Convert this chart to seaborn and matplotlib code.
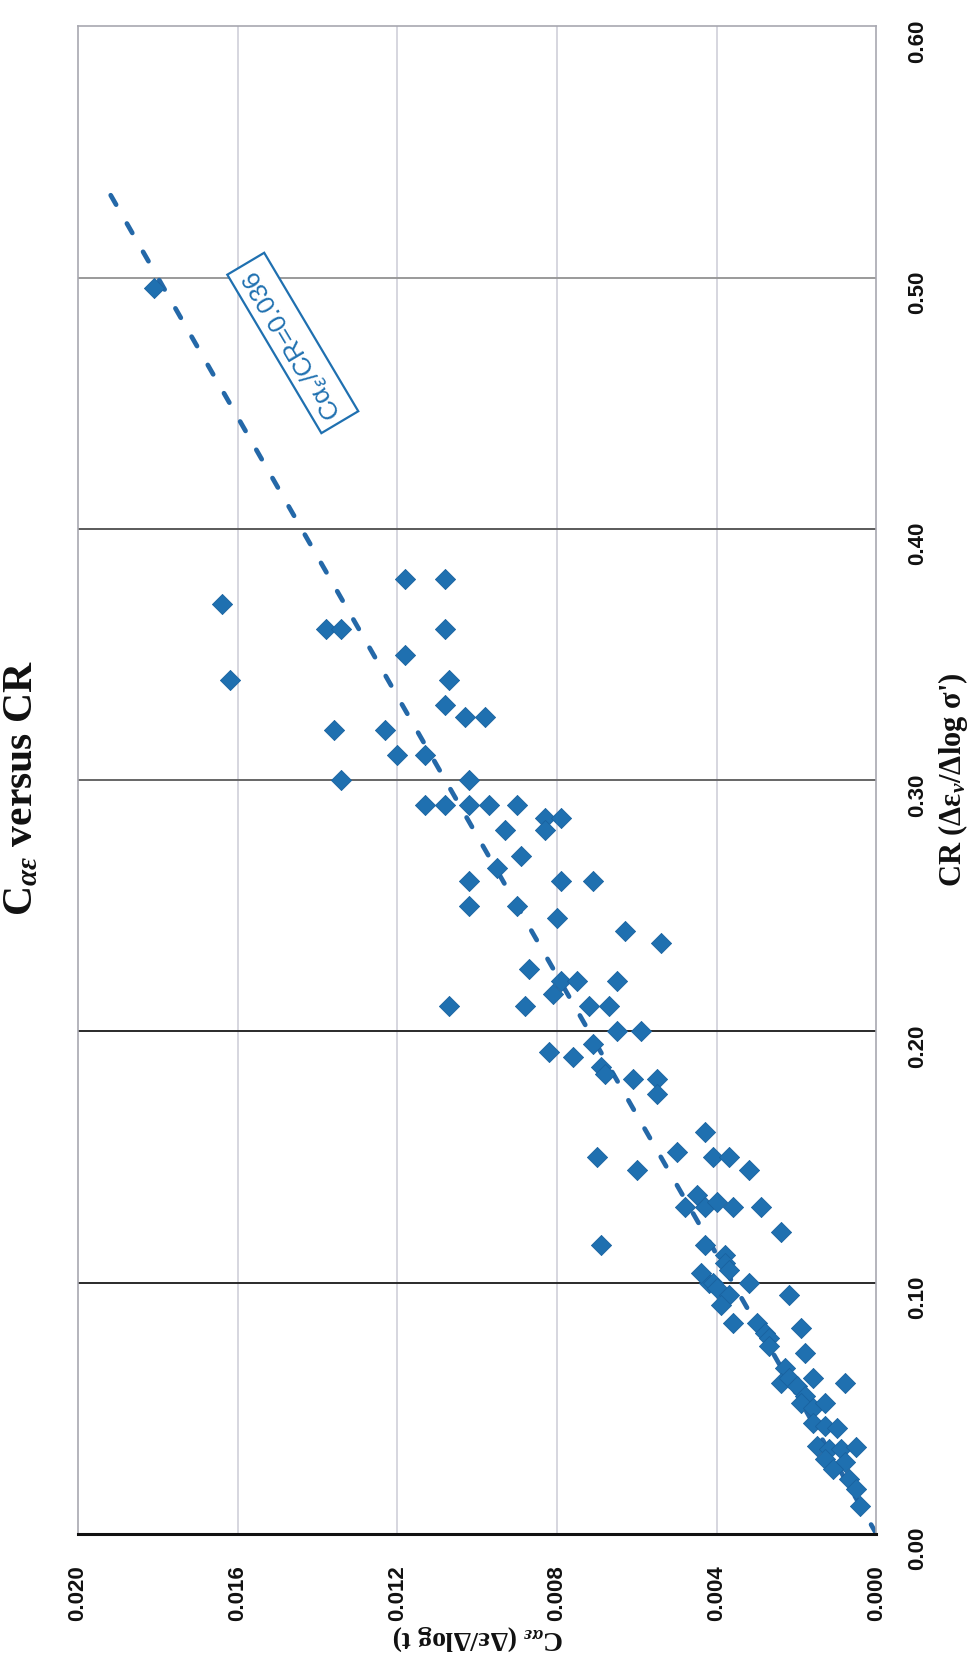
import numpy as np
import pandas as pd
import matplotlib
matplotlib.use("Agg")
import matplotlib.pyplot as plt
import seaborn as sns

# Secondary compression index versus compression ratio
cae = [
    0.0181, 0.0164, 0.0162, 0.0138, 0.0134, 0.0136, 0.0123, 0.0134, 0.0118, 0.0108,
    0.0108, 0.0118, 0.0107, 0.0108, 0.0103, 0.0098, 0.0120, 0.0113, 0.0102, 0.0113,
    0.0108, 0.0102, 0.0097, 0.0090, 0.0083, 0.0079, 0.0083, 0.0093, 0.0089, 0.0095,
    0.0102, 0.0079, 0.0071, 0.0102, 0.0090, 0.0080, 0.0063, 0.0054, 0.0087, 0.0079,
    0.0075, 0.0081, 0.0065, 0.0107, 0.0088, 0.0072, 0.0067, 0.0065, 0.0059, 0.0071,
    0.0082, 0.0076, 0.0069, 0.0068, 0.0061, 0.0055, 0.0055, 0.0043, 0.0070, 0.0060,
    0.0050, 0.0041, 0.0037, 0.0032, 0.0045, 0.0048, 0.0043, 0.0040, 0.0036, 0.0029,
    0.0069, 0.0043, 0.0024, 0.0038, 0.0038, 0.0037, 0.0042, 0.0041, 0.0040, 0.0037,
    0.0032, 0.0022, 0.0036, 0.0030, 0.0028, 0.0027, 0.0027, 0.0019, 0.0018, 0.0023,
    0.0024, 0.0022, 0.0020, 0.0016, 0.0008, 0.0018, 0.0019, 0.0016, 0.0013, 0.0016,
    0.0013, 0.0010, 0.0015, 0.0012, 0.0009, 0.0005, 0.0013, 0.0008, 0.0011, 0.0007,
    0.0005, 0.0004, 0.0044, 0.0039,
]
cr = [
    0.496, 0.370, 0.340, 0.360, 0.360, 0.320, 0.320, 0.300, 0.380, 0.380,
    0.360, 0.350, 0.340, 0.330, 0.325, 0.325, 0.310, 0.310, 0.300, 0.290,
    0.290, 0.290, 0.290, 0.290, 0.285, 0.285, 0.280, 0.280, 0.270, 0.265,
    0.260, 0.260, 0.260, 0.250, 0.250, 0.245, 0.240, 0.235, 0.225, 0.220,
    0.220, 0.215, 0.220, 0.210, 0.210, 0.210, 0.210, 0.200, 0.200, 0.195,
    0.192, 0.190, 0.186, 0.183, 0.181, 0.181, 0.175, 0.160, 0.150, 0.145,
    0.152, 0.150, 0.150, 0.145, 0.135, 0.130, 0.130, 0.132, 0.130, 0.130,
    0.115, 0.115, 0.120, 0.111, 0.108, 0.105, 0.100, 0.100, 0.098, 0.095,
    0.100, 0.095, 0.084, 0.084, 0.080, 0.078, 0.075, 0.082, 0.072, 0.066,
    0.060, 0.062, 0.059, 0.062, 0.060, 0.055, 0.052, 0.050, 0.052, 0.044,
    0.043, 0.042, 0.035, 0.034, 0.034, 0.0345, 0.030, 0.0285, 0.026, 0.022,
    0.018, 0.011, 0.104, 0.091,
]

# Fitted ratio Cae / CR and the CR span of the trend line
trend_ratio = 0.036
trend_cr = [0.0, 0.54]

cae_ticks = [0.000, 0.004, 0.008, 0.012, 0.016, 0.020]
cr_ticks = [0.0, 0.1, 0.2, 0.3, 0.4, 0.5, 0.6]

title_text = r"C$_{αε}$ versus CR"
cae_label = r"C$_{αε}$ (Δε/Δlog t)"
cr_label = r"CR (Δε$_{v}$/Δlog σ')"
trend_label = r"Cα$_{ε}$/CR=0.036"

BLUE = "#1f70b0"
LINE_BLUE = "#2468a8"

sns.set_style("white")
plt.rcParams["font.family"] = ["Liberation Sans", "DejaVu Sans"]
plt.rcParams["mathtext.fontset"] = "custom"
plt.rcParams["mathtext.rm"] = "Liberation Serif:bold"
plt.rcParams["mathtext.it"] = "Liberation Serif:bold:italic"
plt.rcParams["mathtext.bf"] = "Liberation Serif:bold"

fig = plt.figure(figsize=(9.69, 16.58), dpi=100)
ax = fig.add_axes([0.0805, 0.0742, 0.824, 0.9093])

# The chart is laid out turned a quarter turn: CR runs up the page,
# Cae runs from right (0) to left (0.020).
ax.set_xlim(0.020, 0.0)
ax.set_ylim(0.0, 0.6)

# grid
for t in cae_ticks[1:-1]:
    ax.axvline(t, color="#cbcbd6", lw=1.1, zorder=0.5)
grid_cols = ["#2a2a2a", "#2a2a2a", "#666666", "#5a5a5a", "#9a9a9a"]
for t, c in zip(cr_ticks[1:-1], grid_cols):
    ax.axhline(t, color=c, lw=1.4, zorder=0.5)

df = pd.DataFrame({"cae": cae, "cr": cr})
sns.scatterplot(data=df, x="cae", y="cr", marker="D", s=105, color=BLUE,
                edgecolor="#1a62a0", linewidth=0.6, ax=ax, zorder=3, legend=False)

line_cr = np.array(trend_cr)
ax.plot(trend_ratio * line_cr, line_cr, color=LINE_BLUE, lw=3.4,
        dashes=(2.3, 4.6), dash_capstyle="round", zorder=2)

ax.text(0.01462, 0.474, trend_label, rotation=120.7, rotation_mode="anchor",
        ha="center", va="center", color=BLUE, fontsize=18.5,
        family=["Liberation Sans", "DejaVu Sans"], math_fontfamily="dejavusans",
        bbox=dict(boxstyle="square,pad=0.3", fc="white", ec=BLUE, lw=1.6), zorder=4)

# ticks
ax.set_xticks(cae_ticks)
ax.set_xticklabels([f"{t:.3f}" for t in cae_ticks])
ax.set_yticks(cr_ticks)
ax.set_yticklabels([f"{t:.2f}" for t in cr_ticks])
ax.yaxis.tick_right()
ax.tick_params(axis="both", length=0)
ax.tick_params(axis="x", labelrotation=90, pad=22)
ax.tick_params(axis="y", labelrotation=90, pad=22)
for lab in ax.get_xticklabels() + ax.get_yticklabels():
    lab.set_fontweight("bold")
    lab.set_fontsize(16)
    lab.set_color("#111111")
ax.set_xlabel("")
ax.set_ylabel("")

for side in ["left", "right", "top"]:
    ax.spines[side].set_color("#a8a8b0")
    ax.spines[side].set_linewidth(1.2)
ax.spines["bottom"].set_color("#111111")
ax.spines["bottom"].set_linewidth(2.2)

serif = ["Liberation Serif", "DejaVu Serif"]
fig.text(0.0227, 0.5247, title_text, rotation=90, ha="center", va="center",
         family=serif, fontweight="bold", fontsize=30, color="#111111")
fig.text(0.9830, 0.5300, cr_label, rotation=90, ha="center", va="center",
         family=serif, fontweight="bold", fontsize=22, color="#111111")
fig.text(0.4933, 0.0120, cae_label, rotation=180, ha="center", va="center",
         family=serif, fontweight="bold", fontsize=20, color="#111111")

fig.savefig("out.png", dpi=100, facecolor="white")
